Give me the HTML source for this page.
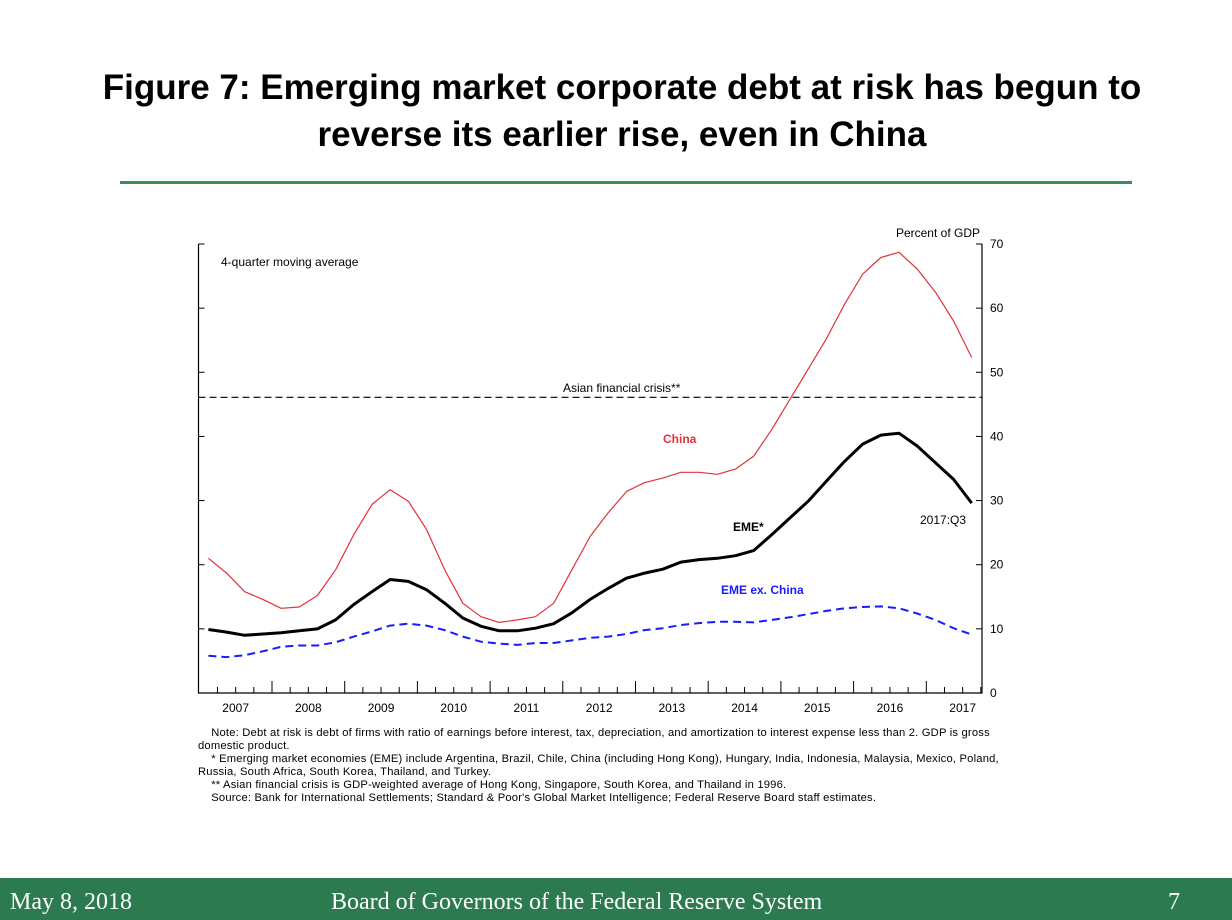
<!DOCTYPE html>
<html><head><meta charset="utf-8"><style>
body{margin:0;width:1232px;height:920px;background:#fff;position:relative;overflow:hidden;font-family:"Liberation Sans",sans-serif}
.title{position:absolute;left:0;width:1244px;top:64px;text-align:center;font-weight:bold;font-size:35px;line-height:47px;color:#000;letter-spacing:0px}
.rule{position:absolute;left:120px;top:181px;width:1012px;height:3px;background:#3d8a5e}
.notes{position:absolute;left:198px;top:727px;font-size:11.2px;line-height:13px;color:#000;letter-spacing:0.2px}
.footer{position:absolute;left:0;top:878px;width:1232px;height:42px;background:#2b7a50;color:#fff;font-family:"Liberation Serif",serif;font-size:24px}
.footer span{position:absolute;top:11px}
</style></head><body>
<div class="title">Figure 7: Emerging market corporate debt at risk has begun to<br>reverse its earlier rise, even in China</div>
<div class="rule"></div>
<svg id="chart" width="1232" height="920" style="position:absolute;left:0;top:0" font-family="Liberation Sans, sans-serif"></svg>
<div class="notes">
&nbsp;&nbsp;&nbsp;&nbsp;Note: Debt at risk is debt of firms with ratio of earnings before interest, tax, depreciation, and amortization to interest expense less than 2. GDP is gross<br>
domestic product.<br>
&nbsp;&nbsp;&nbsp;&nbsp;* Emerging market economies (EME) include Argentina, Brazil, Chile, China (including Hong Kong), Hungary, India, Indonesia, Malaysia, Mexico, Poland,<br>
Russia, South Africa, South Korea, Thailand, and Turkey.<br>
&nbsp;&nbsp;&nbsp;&nbsp;** Asian financial crisis is GDP-weighted average of Hong Kong, Singapore, South Korea, and Thailand in 1996.<br>
&nbsp;&nbsp;&nbsp;&nbsp;Source: Bank for International Settlements; Standard &amp; Poor's Global Market Intelligence; Federal Reserve Board staff estimates.
</div>
<div class="footer">
<span style="left:10px">May 8, 2018</span>
<span style="left:331px">Board of Governors of the Federal Reserve System</span>
<span style="left:1168px">7</span>
</div>
<script>
const years=["2007","2008","2009","2010","2011","2012","2013","2014","2015","2016","2017"];
const yTicks=[0,10,20,30,40,50,60,70];
const china=[21.0,18.7,15.8,14.6,13.2,13.4,15.2,19.2,24.7,29.4,31.7,29.9,25.5,19.2,14.0,11.9,11.0,11.4,11.9,14.0,19.2,24.4,28.1,31.4,32.8,33.5,34.4,34.4,34.1,34.9,36.9,41.1,45.8,50.5,55.2,60.6,65.3,67.9,68.7,66.1,62.5,58.0,52.3];
const eme=[9.9,9.5,9.0,9.2,9.4,9.7,10.0,11.4,13.8,15.8,17.7,17.4,16.1,14.0,11.7,10.4,9.7,9.7,10.1,10.8,12.5,14.6,16.3,17.9,18.7,19.3,20.4,20.8,21.0,21.4,22.2,24.7,27.3,29.9,33.0,36.1,38.8,40.2,40.5,38.5,35.9,33.3,29.6];
const emeExChina=[5.8,5.6,5.9,6.5,7.2,7.4,7.4,7.9,8.8,9.6,10.5,10.8,10.5,9.8,8.8,8.0,7.7,7.5,7.8,7.8,8.2,8.6,8.8,9.2,9.8,10.1,10.6,10.9,11.1,11.1,11.0,11.4,11.8,12.3,12.8,13.2,13.4,13.5,13.2,12.4,11.4,10.1,9.1];
const asianCrisis=46.1;

const svg=document.getElementById('chart');
const NS='http://www.w3.org/2000/svg';
const L=198.5,R=982,T=244,B=693,x0=199.3,yearW=72.7,qW=yearW/4;
const y=v=>B-(v-0)/(70-0)*(B-T);
const xq=i=>x0+(i+0.5)*qW;
function mk(tag,attrs){const e=document.createElementNS(NS,tag);for(const k in attrs)e.setAttribute(k,attrs[k]);svg.appendChild(e);return e;}
let e;
e=mk('path',{d:`M${L},${T} V${B} H${R} V${T}`,fill:'none',stroke:'#000','stroke-width':1.2});


yTicks.forEach(v=>{
  if(v>0&&v<70){e=mk('line',{x1:L,x2:L+6,y1:y(v),y2:y(v),stroke:'#000'});
  
  }
  if(v>0){e=mk('line',{x1:R-6,x2:R,y1:y(v),y2:y(v),stroke:'#000'});
  
  }
  e=mk('text',{x:R+8,y:y(v)+4,'font-size':12});e.textContent=v;
  
  
});
e=mk('line',{x1:L,x2:L+6,y1:T,y2:T,stroke:'#000'});


const nq=years.length*4-1;
for(let q=1;q<=nq;q++){
  const xx=x0+q*qW, major=q%4===0;
  e=mk('line',{x1:xx,x2:xx,y1:B,y2:B-(major?12:6),stroke:'#000'});
  
  
}
years.forEach((yr,i)=>{
  e=mk('text',{x:x0+(i+0.5)*yearW,y:B+19,'font-size':12,'text-anchor':'middle'});e.textContent=yr;
  
  
});
e=mk('line',{x1:L,x2:R,y1:y(asianCrisis),y2:y(asianCrisis),stroke:'#000','stroke-dasharray':'7,4','stroke-width':1.2});


function line(arr,color,w,dash,name){
  const p=arr.map((v,i)=>`${i?'L':'M'}${xq(i).toFixed(1)},${y(v).toFixed(1)}`).join(' ');
  const e=mk('path',{d:p,fill:'none',stroke:color,'stroke-width':w,'stroke-linejoin':'round'});
  if(dash)e.setAttribute('stroke-dasharray',dash);
  
  
}
line(emeExChina,'#1a1aff',2,'8,5','series-eme-ex-china');
line(china,'#e0333a',1.2,null,'series-china');
line(eme,'#000',3,null,'series-eme');
function txt(s,x,yy,opts,name){const e=mk('text',Object.assign({x:x,y:yy,'font-size':12},opts));e.textContent=s;
  
  }
txt('Percent of GDP',980,237,{'text-anchor':'end'},'y-axis-title');
txt('4-quarter moving average',221,266,{},'moving-average-note');
txt('Asian financial crisis**',563,392,{},'asian-crisis-label');
txt('China',663,443,{fill:'#e0333a','font-weight':'bold'},'china-label');
txt('EME*',733,531,{'font-weight':'bold'},'eme-label');
txt('EME ex. China',721,594,{fill:'#1a1aff','font-weight':'bold'},'eme-ex-china-label');
txt('2017:Q3',920,524,{},'last-point-label');
</script>
</body></html>
